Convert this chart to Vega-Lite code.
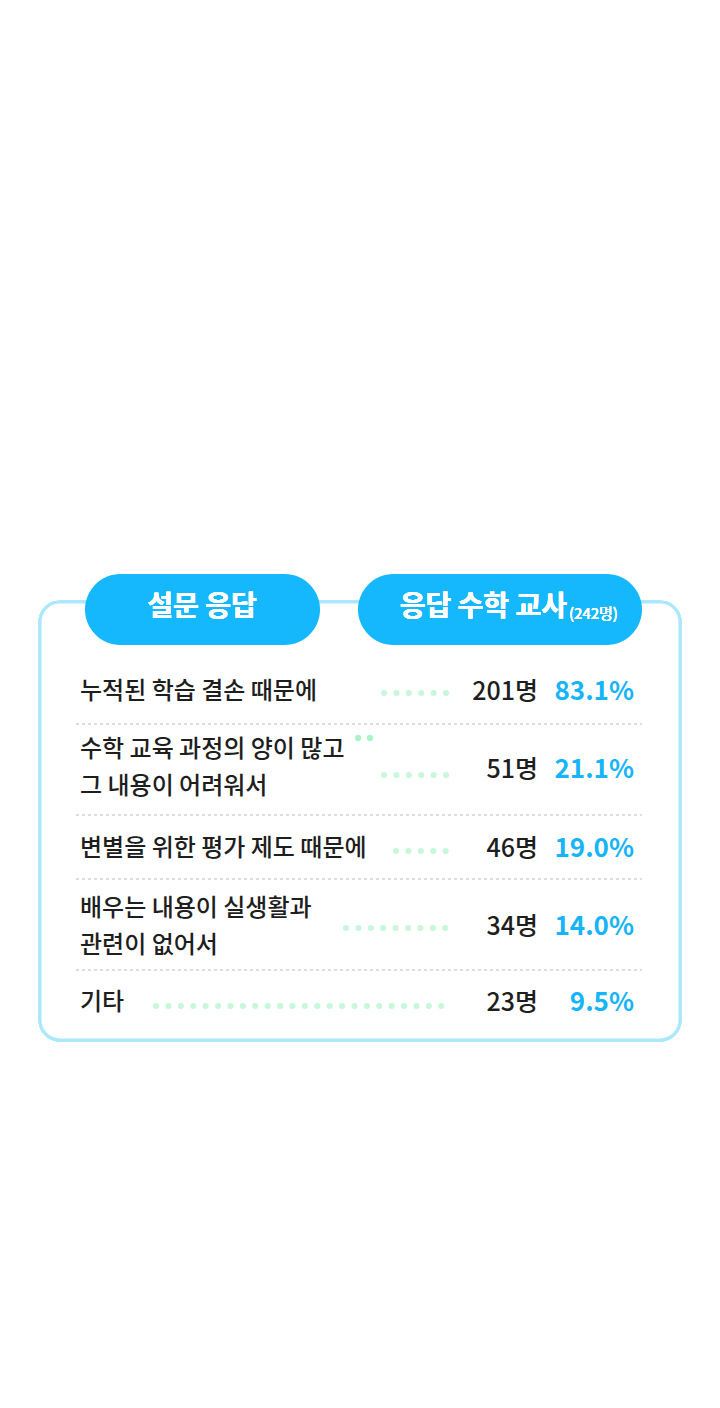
{
  "$schema": "https://vega.github.io/schema/vega-lite/v6.json",
  "width": 720,
  "height": 1408,
  "padding": 0,
  "autosize": {"type": "fit", "contains": "padding"},
  "background": "white",
  "config": {"view": {"stroke": null}, "text": {"font": "Noto Sans CJK KR"}},
  "data": {
    "values": [
      {"row": 1, "label": "누적된 학습 결손 때문에", "count": "201명", "pct": "83.1%", "dotStart": 384},
      {"row": 2, "label": "수학 교육 과정의 양이 많고\n그 내용이 어려워서", "count": "51명", "pct": "21.1%", "dotStart": 384},
      {"row": 3, "label": "변별을 위한 평가 제도 때문에", "count": "46명", "pct": "19.0%", "dotStart": 396},
      {"row": 4, "label": "배우는 내용이 실생활과\n관련이 없어서", "count": "34명", "pct": "14.0%", "dotStart": 346},
      {"row": 5, "label": "기타", "count": "23명", "pct": "9.5%", "dotStart": 156}
    ]
  },
  "resolve": {"scale": {"y": "independent"}},
  "layer": [
    {
      "mark": {"type": "rect", "cornerRadius": 20, "fill": "white", "stroke": "#aae8fc", "strokeWidth": 3},
      "encoding": {
        "x": {"datum": 40, "type": "quantitative", "scale": {"domain": [0, 720], "range": [0, 720]}, "axis": null},
        "x2": {"datum": 680},
        "y": {"datum": 602, "type": "quantitative", "scale": {"domain": [0, 1408], "range": [0, 1408]}, "axis": null},
        "y2": {"datum": 1040}
      }
    },
    {
      "data": {"values": [{"x1": 85, "x2": 320}, {"x1": 358, "x2": 642}]},
      "mark": {"type": "rect", "cornerRadius": 36, "fill": "#15b8fd"},
      "encoding": {
        "x": {"field": "x1", "type": "quantitative", "scale": {"domain": [0, 720], "range": [0, 720]}, "axis": null},
        "x2": {"field": "x2"},
        "y": {"datum": 574, "type": "quantitative", "scale": {"domain": [0, 1408], "range": [0, 1408]}, "axis": null},
        "y2": {"datum": 645}
      }
    },
    {
      "mark": {"type": "text", "color": "white", "fontWeight": "bold", "baseline": "middle", "align": "center", "fontSize": 28, "text": "설문 응답"},
      "encoding": {
        "x": {"datum": 202, "type": "quantitative", "scale": {"domain": [0, 720], "range": [0, 720]}, "axis": null},
        "y": {"datum": 608, "type": "quantitative", "scale": {"domain": [0, 1408], "range": [0, 1408]}, "axis": null}
      }
    },
    {
      "mark": {"type": "text", "color": "white", "fontWeight": "bold", "baseline": "middle", "align": "right", "fontSize": 28, "text": "응답 수학 교사"},
      "encoding": {
        "x": {"datum": 567, "type": "quantitative", "scale": {"domain": [0, 720], "range": [0, 720]}, "axis": null},
        "y": {"datum": 608, "type": "quantitative", "scale": {"domain": [0, 1408], "range": [0, 1408]}, "axis": null}
      }
    },
    {
      "mark": {"type": "text", "color": "white", "baseline": "middle", "align": "left", "fontSize": 15, "text": "(242명)"},
      "encoding": {
        "x": {"datum": 569, "type": "quantitative", "scale": {"domain": [0, 720], "range": [0, 720]}, "axis": null},
        "y": {"datum": 614, "type": "quantitative", "scale": {"domain": [0, 1408], "range": [0, 1408]}, "axis": null}
      }
    },
    {
      "data": {"values": [{"y": 724}, {"y": 815}, {"y": 879}, {"y": 970}]},
      "mark": {"type": "rule", "stroke": "#bbbbbb", "strokeWidth": 1, "strokeDash": [3, 3]},
      "encoding": {
        "x": {"datum": 76, "type": "quantitative", "scale": {"domain": [0, 720], "range": [0, 720]}, "axis": null},
        "x2": {"datum": 642},
        "y": {"field": "y", "type": "quantitative", "scale": {"domain": [0, 1408], "range": [0, 1408]}, "axis": null}
      }
    },
    {
      "mark": {"type": "rule", "stroke": "#c9f7dc", "strokeWidth": 6, "strokeCap": "round", "strokeDash": [0.1, 12.3]},
      "encoding": {
        "x": {"field": "dotStart", "type": "quantitative", "scale": {"domain": [0, 720], "range": [0, 720]}, "axis": null},
        "x2": {"datum": 450},
        "y": {"field": "row", "type": "quantitative", "scale": {"domain": [1, 2, 3, 4, 5], "range": [693, 775, 851, 928, 1006]}, "axis": null}
      }
    },
    {
      "data": {"values": [{"x": 358}, {"x": 370}]},
      "mark": {"type": "circle", "color": "#aef3c8", "opacity": 1, "size": 40},
      "encoding": {
        "x": {"field": "x", "type": "quantitative", "scale": {"domain": [0, 720], "range": [0, 720]}, "axis": null},
        "y": {"datum": 738, "type": "quantitative", "scale": {"domain": [0, 1408], "range": [0, 1408]}, "axis": null}
      }
    },
    {
      "mark": {"type": "text", "align": "left", "baseline": "middle", "fontSize": 24, "fontWeight": 500, "color": "#1e1e1e", "lineHeight": 37, "lineBreak": "\n"},
      "encoding": {
        "x": {"datum": 80, "type": "quantitative", "scale": {"domain": [0, 720], "range": [0, 720]}, "axis": null},
        "y": {"field": "row", "type": "quantitative", "scale": {"domain": [1, 2, 3, 4, 5], "range": [692, 750, 849, 909, 1003]}, "axis": null},
        "text": {"field": "label"}
      }
    },
    {
      "mark": {"type": "text", "align": "right", "baseline": "middle", "fontSize": 25, "fontWeight": 500, "color": "#1e1e1e"},
      "encoding": {
        "x": {"datum": 538, "type": "quantitative", "scale": {"domain": [0, 720], "range": [0, 720]}, "axis": null},
        "y": {"field": "row", "type": "quantitative", "scale": {"domain": [1, 2, 3, 4, 5], "range": [692, 770, 849, 927, 1003]}, "axis": null},
        "text": {"field": "count"}
      }
    },
    {
      "mark": {"type": "text", "align": "right", "baseline": "middle", "fontSize": 26, "fontWeight": "bold", "color": "#16b4f8"},
      "encoding": {
        "x": {"datum": 634, "type": "quantitative", "scale": {"domain": [0, 720], "range": [0, 720]}, "axis": null},
        "y": {"field": "row", "type": "quantitative", "scale": {"domain": [1, 2, 3, 4, 5], "range": [692, 770, 849, 927, 1003]}, "axis": null},
        "text": {"field": "pct"}
      }
    }
  ]
}
